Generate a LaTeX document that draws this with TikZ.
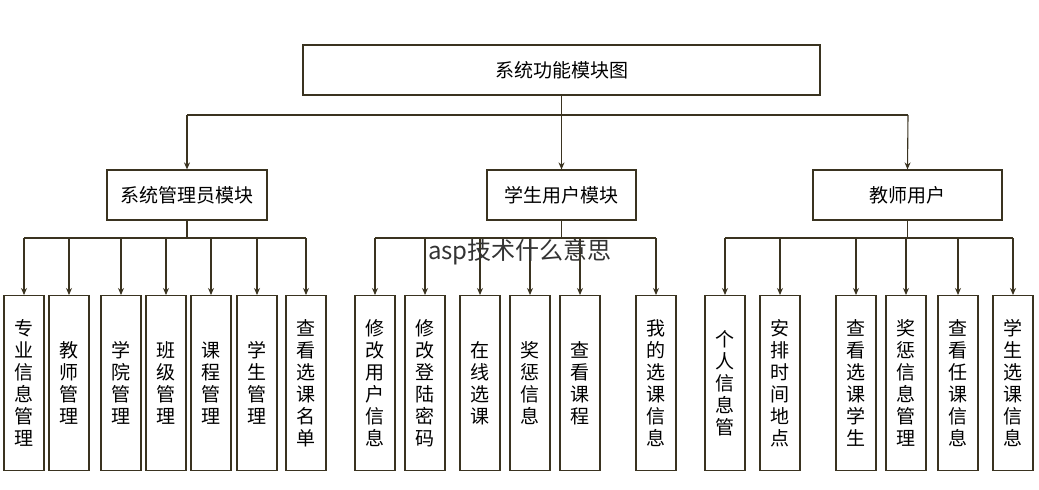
\documentclass[tikz,border=0pt]{standalone}
\usepackage{fontspec}
\newfontfamily\cjk{Noto Sans CJK SC}
\usetikzlibrary{arrows.meta}
\definecolor{ln}{HTML}{3A3320}
\begin{document}
\begin{tikzpicture}[x=1pt,y=-1pt,
  box/.style={draw=ln,line width=1.2pt,fill=white,inner sep=0pt,font=\cjk\fontsize{19}{22}\selectfont},
  leaf/.style={box,minimum width=40pt,minimum height=175pt,anchor=north,align=center,font=\cjk\fontsize{19}{22}\selectfont},
  conn/.style={draw=ln,line width=1.1pt},
  arr/.style={conn,-{Stealth[length=7pt,width=6pt]}}]
\useasboundingbox (0,0) rectangle (1039,490);
\node[box,minimum width=517pt,minimum height=50pt] (top) at (561.5,70) {系统功能模块图};
\node[box,minimum width=160pt,minimum height=50pt] (a) at (187,195) {系统管理员模块};
\node[box,minimum width=149pt,minimum height=50pt] (b) at (561.5,195) {学生用户模块};
\node[box,minimum width=189pt,minimum height=50pt] (c) at (907.5,195) {教师用户};
\coordinate (tb) at (561.5,115);
\draw[conn] (top.south) -- (tb);
\draw[conn] (187,115) -- (908,115);
\draw[arr] (187,115) -- (a.north);
\draw[arr] (tb) -- (b.north);
\draw[arr] (908,115) -- (c.north);
\foreach \n/\x/\t in {a1/24/专\\业\\信\\息\\管\\理, a2/69/教\\师\\管\\理, a3/121/学\\院\\管\\理, a4/166/班\\级\\管\\理, a5/211/课\\程\\管\\理, a6/257/学\\生\\管\\理, a7/306/查\\看\\选\\课\\名\\单,
  b1/375/修\\改\\用\\户\\信\\息, b2/425/修\\改\\登\\陆\\密\\码, b3/480/在\\线\\选\\课, b4/530/奖\\惩\\信\\息, b5/580/查\\看\\课\\程, b6/656/我\\的\\选\\课\\信\\息,
  c1/725/个\\人\\信\\息\\管, c2/780/安\\排\\时\\间\\地\\点, c3/856/查\\看\\选\\课\\学\\生, c4/906/奖\\惩\\信\\息\\管\\理, c5/958/查\\看\\任\\课\\信\\息, c6/1013/学\\生\\选\\课\\信\\息}
  {\node[leaf] (\n) at (\x,295) {\t};}
\draw[conn] (a.south) -- (187,238);
\draw[conn] (24,238) -- (306,238);
\foreach \n/\x in {a1/24,a2/69,a3/121,a4/166,a5/211,a6/257,a7/306} \draw[arr] (\x,238) -- (\n.north);
\draw[conn] (b.south) -- (561.5,238);
\draw[conn] (375,238) -- (656,238);
\foreach \n/\x in {b1/375,b2/425,b3/480,b4/530,b5/580,b6/656} \draw[arr] (\x,238) -- (\n.north);
\draw[conn] (c.south) -- (907.5,238);
\draw[conn] (725,238) -- (1013,238);
\foreach \n/\x in {c1/725,c2/780,c3/856,c4/906,c5/958,c6/1013} \draw[arr] (\x,238) -- (\n.north);
\node[font=\cjk\fontsize{24}{28}\selectfont,text=black!80] (wm) at (520,252) {asp技术什么意思};
\end{tikzpicture}
\end{document}
